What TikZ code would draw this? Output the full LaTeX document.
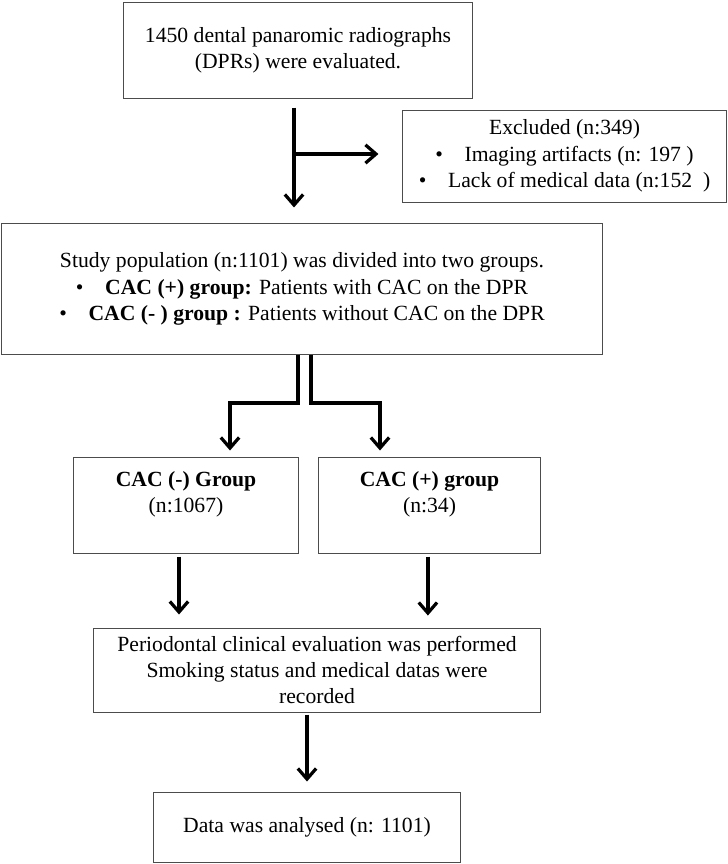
\documentclass[tikz,border=0pt]{standalone}
\usepackage{fontspec}
\setmainfont{Liberation Serif}
\usetikzlibrary{arrows.meta}
\begin{document}
\begin{tikzpicture}[x=0.025cm, y=-0.025cm,
  box/.style={draw=black!70, line width=0.7pt, align=center, inner sep=0pt,
    font=\fontsize{15.4}{18.7}\selectfont},
  arr/.style={line width=2.3pt, -{Straight Barb[length=7.5pt,width=13pt]}}]
\useasboundingbox (0,0) rectangle (728,864);
\node[box, minimum width=8.7cm, minimum height=2.4cm] (dpr) at (298,50) {1450 dental panaromic radiographs\\(DPRs) were evaluated.};
\node[box, minimum width=8.075cm, minimum height=2.3cm] (excl) at (564.5,156) {Excluded (n:349)\\\textbullet\quad Imaging artifacts (n: 197 )\\\textbullet\quad Lack of medical data (n:152\ \ )};
\node[box, minimum width=15cm, minimum height=3.25cm] (study) at (302,289) {Study population (n:1101) was divided into two groups.\\\textbullet\quad \textbf{CAC (+) group:} Patients with CAC on the DPR\\\textbullet\quad \textbf{CAC (- ) group :} Patients without CAC on the DPR};
\node[box, minimum width=5.6cm, minimum height=2.4cm] (neg) at (186,505) {\textbf{CAC (-) Group}\\(n:1067)\\\mbox{}};
\node[box, minimum width=5.525cm, minimum height=2.4cm] (pos) at (429.5,505) {\textbf{CAC (+) group}\\(n:34)\\\mbox{}};
\node[box, minimum width=11.15cm, minimum height=2.1cm] (perio) at (317,670) {Periodontal clinical evaluation was performed\\Smoking status and medical datas were\\recorded};
\node[box, minimum width=7.65cm, minimum height=1.75cm] (data) at (307,827) {Data was analysed (n: 1101)};

\coordinate (split) at (294,154);
\coordinate (lsplit) at (298,403);
\coordinate (rsplit) at (311,403);
\coordinate (ldrop) at (230,403);
\coordinate (rdrop) at (380,403);

\path[draw,arr,shorten <=0.225cm,shorten >=0.4cm] (dpr.south -| split) -- (study.north -| split);
\path[draw,arr,shorten >=0.6cm] (split) -- (excl.west |- split);
\path[draw,arr,shorten >=0.15cm] (study.south -| lsplit) -- (lsplit) -- (ldrop) -- (neg.north -| ldrop);
\path[draw,arr,shorten >=0.15cm] (study.south -| rsplit) -- (rsplit) -- (rdrop) -- (pos.north -| rdrop);
\path[draw,arr,shorten <=0.075cm,shorten >=0.325cm] ([xshift=-0.175cm]neg.south) -- ([xshift=-0.175cm]neg.south |- perio.north);
\path[draw,arr,shorten <=0.075cm,shorten >=0.3cm] ([xshift=-0.04cm]pos.south) -- ([xshift=-0.04cm]pos.south |- perio.north);
\path[draw,arr,shorten <=0.05cm,shorten >=0.25cm] (perio.south -| data.north) -- (data.north);
\end{tikzpicture}
\end{document}
